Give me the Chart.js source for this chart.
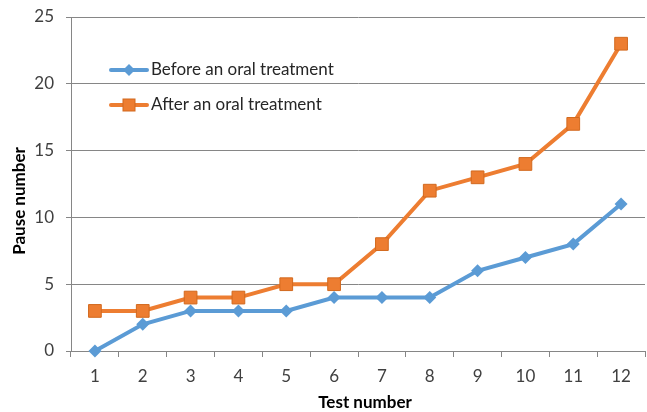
<!DOCTYPE html>
<html><head><meta charset="utf-8">
<script src="https://cdn.jsdelivr.net/npm/chart.js@4"></script>
<style>html,body{margin:0;padding:0;background:#fff}#wrap{width:647px;height:412px}</style>
</head><body><div id="wrap"><canvas id="c" width="647" height="412"></canvas></div>
<script>
const categories = ['1','2','3','4','5','6','7','8','9','10','11','12'];
const beforeValues = [0,2,3,3,3,4,4,4,6,7,8,11];
const afterValues = [3,3,4,4,5,5,8,12,13,14,17,23];
const seriesNames = ['Before an oral treatment','After an oral treatment'];
const xTitle = 'Test number';
const yTitle = 'Pause number';
const yTicks = [0,5,10,15,20,25];

const FONT = 'Lato, "Open Sans", sans-serif';
const BLUE = '#5B9BD5', ORANGE = '#ED7D31';

const legendPlugin = {
  id: 'inlegend',
  afterDraw(chart) {
    const ctx = chart.ctx;
    const items = [
      {name: seriesNames[0], color: BLUE, shape: 'diamond', y: 70},
      {name: seriesNames[1], color: ORANGE, shape: 'square', y: 105}
    ];
    ctx.save();
    items.forEach(it => {
      ctx.strokeStyle = it.color; ctx.lineWidth = 4; ctx.lineCap = 'round';
      ctx.beginPath(); ctx.moveTo(111, it.y); ctx.lineTo(147, it.y); ctx.stroke();
      ctx.fillStyle = it.color;
      if (it.shape === 'diamond') {
        ctx.beginPath(); ctx.moveTo(129, it.y-6); ctx.lineTo(135, it.y); ctx.lineTo(129, it.y+6); ctx.lineTo(123, it.y); ctx.closePath(); ctx.fill();
      } else {
        ctx.fillRect(123, it.y-6, 12, 12);
        ctx.strokeStyle = '#D2691E'; ctx.lineWidth = 1; ctx.strokeRect(123, it.y-6, 12, 12);
      }
      ctx.fillStyle = '#262626'; ctx.font = '17px ' + FONT; ctx.textBaseline = 'middle'; ctx.textAlign = 'left';
      ctx.fillText(it.name, 151, it.y);
    });
    // axis titles
    ctx.fillStyle = '#000'; ctx.font = 'bold 17px ' + FONT; ctx.textAlign = 'center'; ctx.textBaseline = 'middle';
    ctx.fillText(xTitle, 365, 403);
    ctx.translate(20, 201); ctx.rotate(-Math.PI / 2);
    ctx.fillText(yTitle, 0, 0);
    ctx.restore();
  }
};

new Chart(document.getElementById('c'), {
  type: 'line',
  data: {
    labels: categories,
    datasets: [
      {label: seriesNames[0], data: beforeValues, borderColor: BLUE, backgroundColor: BLUE, borderWidth: 4,
       pointStyle: 'rectRot', pointRadius: 6.5, pointBorderWidth: 0, pointBackgroundColor: BLUE, tension: 0, clip: false},
      {label: seriesNames[1], data: afterValues, borderColor: ORANGE, backgroundColor: ORANGE, borderWidth: 4,
       pointStyle: 'rect', pointRadius: 9, pointBorderWidth: 1, pointBorderColor: '#D2691E', pointBackgroundColor: ORANGE, tension: 0, clip: false}
    ]
  },
  options: {
    responsive: false, animation: false,
    layout: {autoPadding: false, padding: {top: 17, right: 2, left: 0, bottom: 0}},
    plugins: {legend: {display: false}, tooltip: {enabled: false}},
    scales: {
      x: {
        offset: true,
        grid: {offset: true, drawOnChartArea: false, drawTicks: true, tickLength: 6, color: '#868686'},
        border: {color: '#868686', width: 1},
        ticks: {color: '#404040', font: {family: FONT, size: 17}, padding: 9, maxRotation: 0},
        title: {display: false},
        afterFit: s => { s.height = 61; s.paddingLeft = 0; s.paddingRight = 0; }
      },
      y: {
        min: 0, max: 25,
        afterBuildTicks: s => { s.ticks = yTicks.map(v => ({value: v})); },
        grid: {color: '#868686', tickLength: 5},
        border: {color: '#868686', width: 1},
        ticks: {color: '#404040', font: {family: FONT, size: 17}, padding: 12},
        title: {display: false},
        afterFit: s => { s.width = 71; s.paddingTop = 0; s.paddingBottom = 0; }
      }
    }
  },
  plugins: [legendPlugin]
});
</script></body></html>
